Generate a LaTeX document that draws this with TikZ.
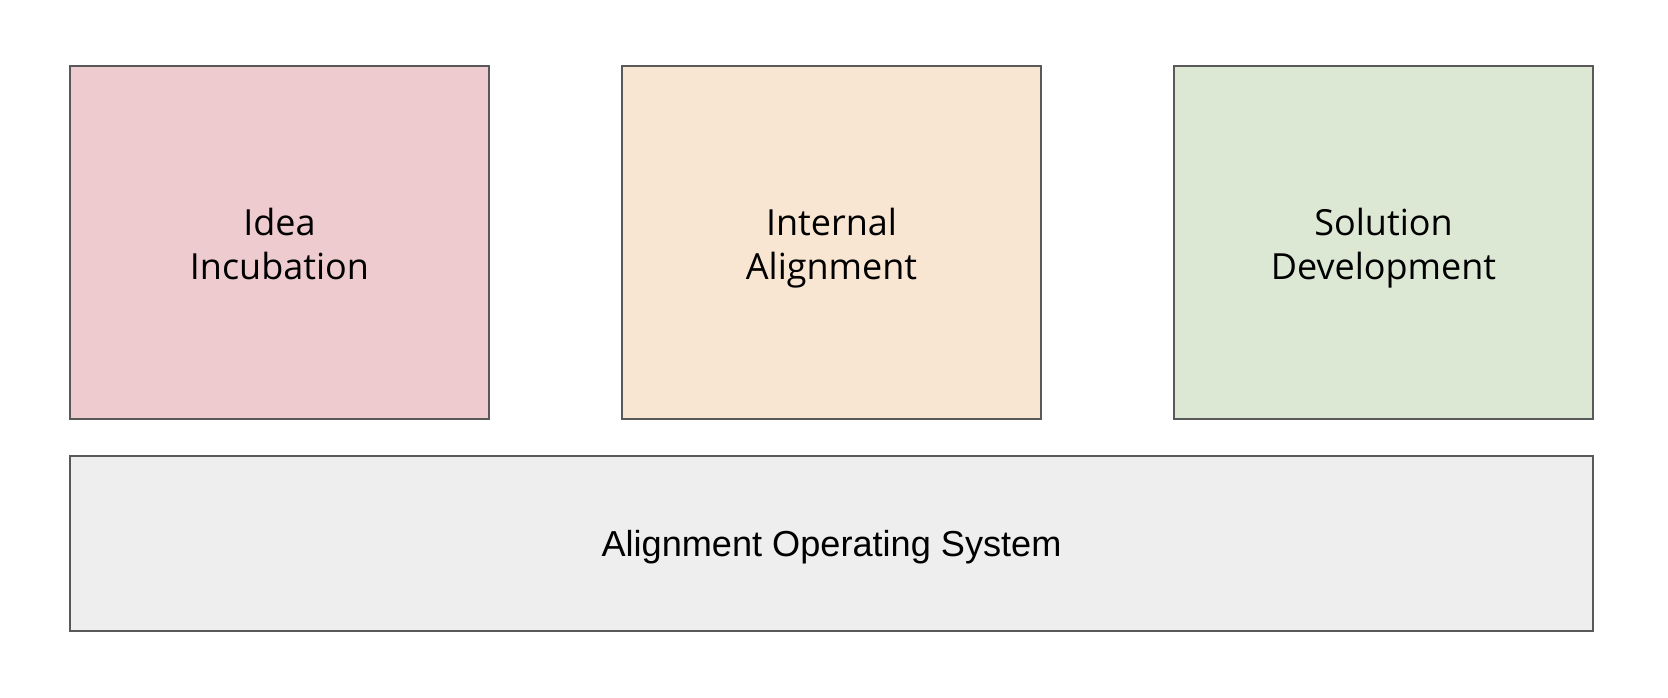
\documentclass[tikz,border=0pt]{standalone}
\usepackage{fontspec}
\setmainfont{Open Sans}
\newfontfamily\arialfont{Liberation Sans}
\definecolor{pinkfill}{HTML}{EDCBCE}
\definecolor{orangefill}{HTML}{F8E5D2}
\definecolor{greenfill}{HTML}{DCE7D4}
\definecolor{grayfill}{HTML}{EEEEEE}
\definecolor{edgegray}{HTML}{595959}
\newcommand{\captop}{\rule{0pt}{22.3pt}}
\begin{document}
\begin{tikzpicture}[x=0.75pt,y=-0.75pt,
  phase/.style={draw=edgegray,line width=1.4pt,minimum width=314.5pt,minimum height=265pt,
    inner sep=0pt,align=center,font=\fontsize{27}{32.5}\selectfont},
  base/.style={draw=edgegray,line width=1.4pt,minimum width=1142.5pt,minimum height=131.5pt,
    inner sep=0pt,text height=19.4pt,text depth=0pt,font=\arialfont\fontsize{27.1}{31}\selectfont}]
\useasboundingbox (0,0) rectangle (1668,698);
\node[phase,fill=pinkfill] (idea) at (279.5,242.5) {\captop\smash{Idea}\\\smash{Incubation}};
\node[phase,fill=orangefill] (internal) at (831.5,242.5) {\captop\smash{Internal}\\\smash{Alignment}};
\node[phase,fill=greenfill] (solution) at (1383.5,242.5) {\captop\smash{Solution}\\\smash{Development}};
\node[base,fill=grayfill] (aos) at (831.5,543.5) {Alignment Operating System};
\end{tikzpicture}
\end{document}
